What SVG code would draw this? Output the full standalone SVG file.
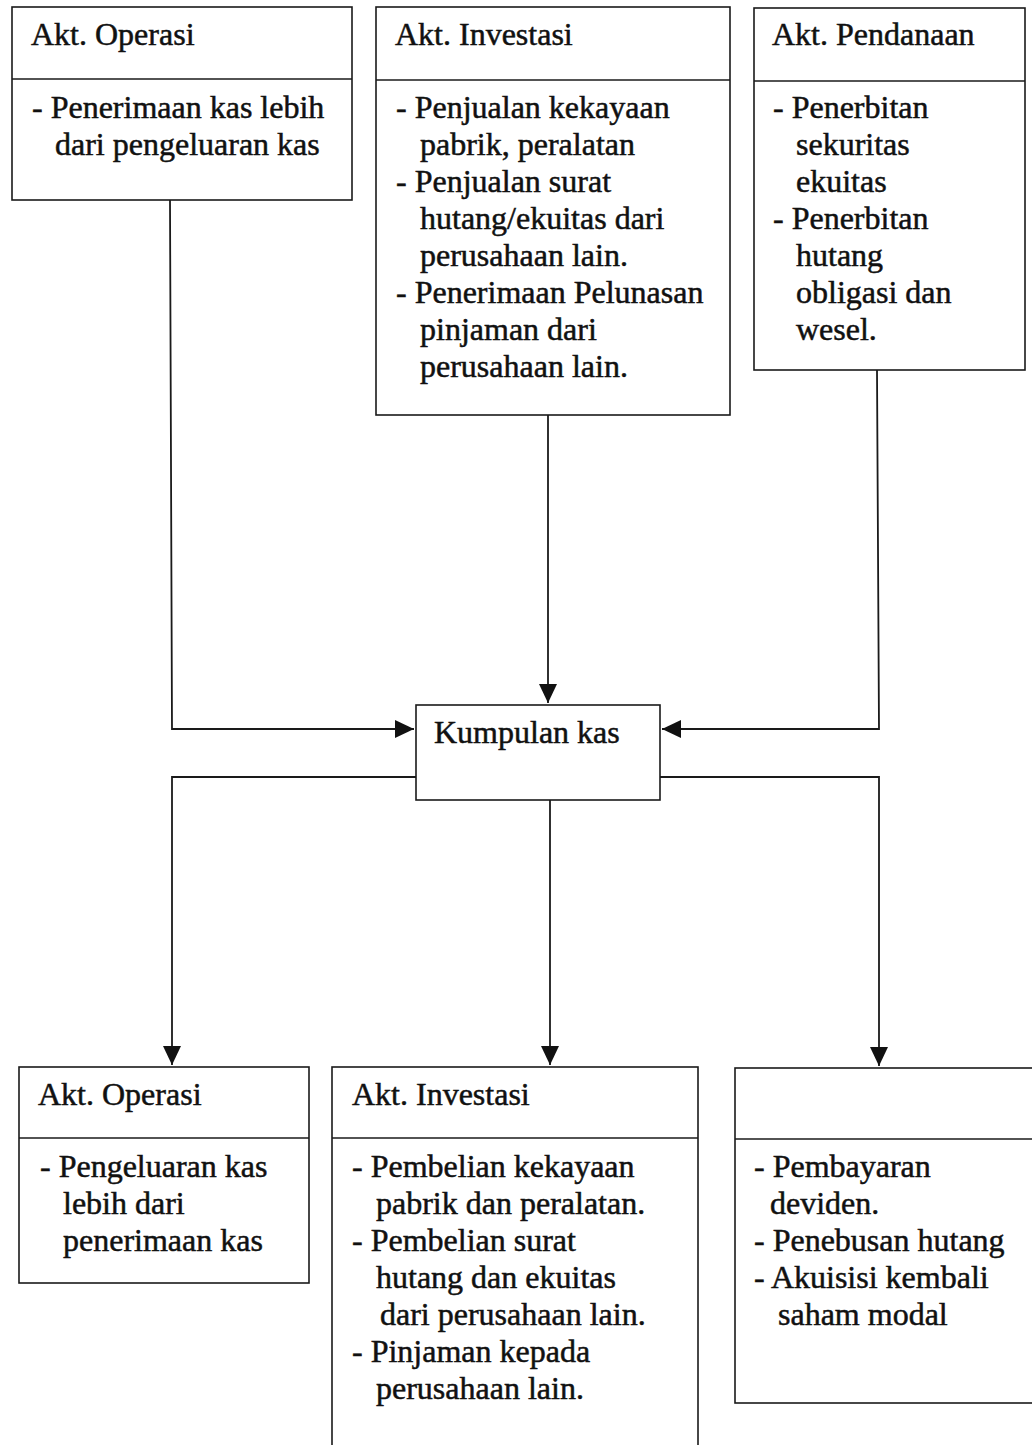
<svg xmlns="http://www.w3.org/2000/svg" width="1032" height="1445" viewBox="0 0 1032 1445">
<style>
.box{fill:#fff;stroke:#1a1a1a;stroke-width:1.6}
.div{stroke:#1a1a1a;stroke-width:1.6}
.t{font-family:"Liberation Serif","Times New Roman",serif;font-size:32px;fill:#111;stroke:#111;stroke-width:0.5}
.c{fill:none;stroke:#1a1a1a;stroke-width:1.8}
</style>
<defs>
<marker id="arr" markerUnits="userSpaceOnUse" markerWidth="20" markerHeight="18" refX="19" refY="9" orient="auto">
<path d="M0,0 L19,9 L0,18 z" fill="#111"/>
</marker>
</defs>
<rect width="1032" height="1445" fill="#fff"/>

<g id="connectors">
<path class="c" d="M170,200 L172,729 L414,729" marker-end="url(#arr)"/>
<path class="c" d="M548,415 L548,703" marker-end="url(#arr)"/>
<path class="c" d="M877,370 L879,729 L662,729" marker-end="url(#arr)"/>
<path class="c" d="M416,777 L172,777 L172,1065" marker-end="url(#arr)"/>
<path class="c" d="M550,800 L550,1065" marker-end="url(#arr)"/>
<path class="c" d="M660,777 L879,777 L879,1066" marker-end="url(#arr)"/>
</g>

<g id="in-operasi">
<rect class="box" x="12" y="7" width="340" height="193"/>
<line class="div" x1="12" y1="79" x2="352" y2="79"/>
<text class="t" x="31" y="45">Akt. Operasi</text>
<text class="t" x="32" y="118">- Penerimaan kas lebih</text>
<text class="t" x="55" y="155">dari pengeluaran kas</text>
</g>

<g id="in-investasi">
<rect class="box" x="376" y="7" width="354" height="408"/>
<line class="div" x1="376" y1="80" x2="730" y2="80"/>
<text class="t" x="395" y="45">Akt. Investasi</text>
<text class="t" x="396" y="118">- Penjualan kekayaan</text>
<text class="t" x="420" y="155">pabrik, peralatan</text>
<text class="t" x="396" y="192">- Penjualan surat</text>
<text class="t" x="420" y="229">hutang/ekuitas dari</text>
<text class="t" x="420" y="266">perusahaan lain.</text>
<text class="t" x="396" y="303">- Penerimaan Pelunasan</text>
<text class="t" x="420" y="340">pinjaman dari</text>
<text class="t" x="420" y="377">perusahaan lain.</text>
</g>

<g id="in-pendanaan">
<rect class="box" x="754" y="8" width="271" height="362"/>
<line class="div" x1="754" y1="81" x2="1025" y2="81"/>
<text class="t" x="772" y="45">Akt. Pendanaan</text>
<text class="t" x="773" y="118">- Penerbitan</text>
<text class="t" x="796" y="155">sekuritas</text>
<text class="t" x="796" y="192">ekuitas</text>
<text class="t" x="773" y="229">- Penerbitan</text>
<text class="t" x="796" y="266">hutang</text>
<text class="t" x="796" y="303">obligasi dan</text>
<text class="t" x="796" y="340">wesel.</text>
</g>

<g id="kumpulan-kas">
<rect class="box" x="416" y="705" width="244" height="95"/>
<text class="t" x="434" y="743">Kumpulan kas</text>
</g>

<g id="out-operasi">
<rect class="box" x="19" y="1067" width="290" height="216"/>
<line class="div" x1="19" y1="1138" x2="309" y2="1138"/>
<text class="t" x="38" y="1105">Akt. Operasi</text>
<text class="t" x="40" y="1177">- Pengeluaran kas</text>
<text class="t" x="63" y="1214">lebih dari</text>
<text class="t" x="63" y="1251">penerimaan kas</text>
</g>

<g id="out-investasi">
<rect class="box" x="332" y="1067" width="366" height="400"/>
<line class="div" x1="332" y1="1138" x2="698" y2="1138"/>
<text class="t" x="352" y="1105">Akt. Investasi</text>
<text class="t" x="352" y="1177">- Pembelian kekayaan</text>
<text class="t" x="376" y="1214">pabrik dan peralatan.</text>
<text class="t" x="352" y="1251">- Pembelian surat</text>
<text class="t" x="376" y="1288">hutang dan ekuitas</text>
<text class="t" x="380" y="1325">dari perusahaan lain.</text>
<text class="t" x="352" y="1362">- Pinjaman kepada</text>
<text class="t" x="376" y="1399">perusahaan lain.</text>
</g>

<g id="out-pendanaan">
<rect class="box" x="735" y="1068" width="320" height="335"/>
<line class="div" x1="735" y1="1139" x2="1055" y2="1139"/>
<text class="t" x="754" y="1177">- Pembayaran</text>
<text class="t" x="770" y="1214">deviden.</text>
<text class="t" x="754" y="1251">- Penebusan hutang</text>
<text class="t" x="754" y="1288">- Akuisisi kembali</text>
<text class="t" x="778" y="1325">saham modal</text>
</g>
</svg>
